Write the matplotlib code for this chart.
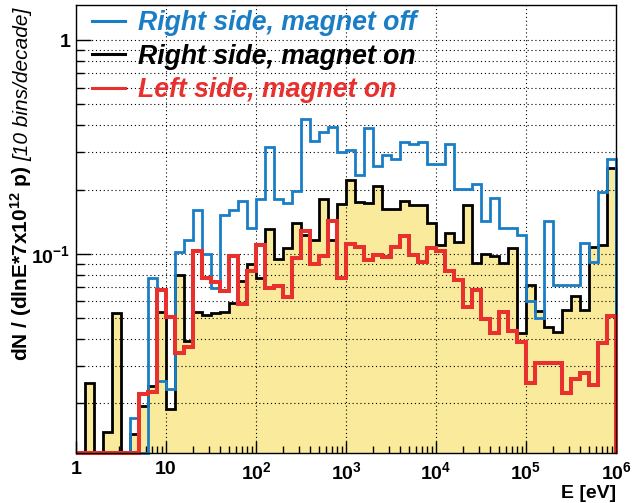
import numpy as np
import matplotlib
matplotlib.use("Agg")
import matplotlib.pyplot as plt
from matplotlib.ticker import FixedLocator, FixedFormatter, NullFormatter
from matplotlib.lines import Line2D

plt.rcParams['font.family'] = ['Liberation Sans', 'DejaVu Sans']
plt.rcParams['mathtext.fontset'] = 'custom'
plt.rcParams['mathtext.rm'] = 'Liberation Sans:bold'
plt.rcParams['mathtext.bf'] = 'Liberation Sans:bold'
plt.rcParams['mathtext.it'] = 'Liberation Sans:italic:bold'

# 10 bins per decade, 1 eV .. 1 MeV
log_edges = np.arange(61) / 10.0

right_on = [0, 0.0249, 0, 0.0146, 0.0528, 0, 0.0144, 0.0195, 0.024, 0.0536,
            0.0187, 0.0795, 0.0392, 0.0536, 0.0517, 0.0530, 0.0533, 0.0586, 0.0745, 0.0901,
            0.0767, 0.130, 0.0944, 0.107, 0.140, 0.122, 0.116, 0.181, 0.116, 0.172,
            0.221, 0.175, 0.173, 0.207, 0.163, 0.162, 0.176, 0.170, 0.170, 0.139,
            0.110, 0.125, 0.114, 0.169, 0.0908, 0.0996, 0.0975, 0.091, 0.107, 0.0428,
            0.0718, 0.0541, 0.0455, 0.0431, 0.0544, 0.0634, 0.0549, 0.108, 0.110, 0.251]

right_off = [0, 0, 0, 0, 0, 0, 0.0171, 0, 0.0767, 0.0253,
             0.0234, 0.102, 0.116, 0.161, 0.100, 0.0693, 0.152, 0.160, 0.177, 0.132,
             0.180, 0.317, 0.180, 0.173, 0.197, 0.428, 0.338, 0.371, 0.392, 0.301,
             0.305, 0.234, 0.390, 0.257, 0.289, 0.279, 0.332, 0.325, 0.334, 0.264,
             0.264, 0.326, 0.202, 0.202, 0.213, 0.142, 0.183, 0.132, 0.132, 0.122,
             0.060, 0.0501, 0.142, 0.0713, 0.0713, 0.0713, 0.112, 0.0918, 0.195, 0.277]

left_on = [0, 0, 0, 0, 0, 0, 0, 0.0220, 0.0226, 0.0676,
           0.0507, 0.0342, 0.0367, 0.103, 0.0767, 0.074, 0.0671, 0.0975, 0.0581, 0.083,
           0.110, 0.0693, 0.0708, 0.063, 0.0958, 0.128, 0.090, 0.0975, 0.143, 0.0767,
           0.111, 0.108, 0.094, 0.0986, 0.097, 0.108, 0.121, 0.0986, 0.0917, 0.107,
           0.103, 0.0832, 0.0753, 0.0565, 0.0676, 0.0493, 0.0428, 0.0536, 0.0437, 0.0385,
           0.025, 0.0307, 0.0309, 0.031, 0.0224, 0.0261, 0.0278, 0.0244, 0.0383, 0.0512]

labels = ["Right side, magnet off", "Right side, magnet on", "Left side, magnet on"]
x_ticks = [1, 10, 100, 1e3, 1e4, 1e5, 1e6]
x_ticklabels = ["1", "10", r"$\mathbf{10^{2}}$", r"$\mathbf{10^{3}}$", r"$\mathbf{10^{4}}$",
                r"$\mathbf{10^{5}}$", r"$\mathbf{10^{6}}$"]
y_ticks = [0.1, 1]
y_ticklabels = [r"$\mathbf{10^{-1}}$", "1"]

YMIN, YMAX = 0.0117, 1.46
edges = 10 ** log_edges

def clamp(v):
    return np.maximum(np.asarray(v, float), YMIN)

fill_col = '#f9eb9b'
blue = '#1a7ec6'
red = '#e8302e'

fig = plt.figure(figsize=(6.33, 5.03), dpi=100)
ax = fig.add_axes([76/633, 1-453/503, (616-76)/633, (453-5)/503])
ax.set_xscale('log')
ax.set_yscale('log')
ax.set_xlim(1, 1e6)
ax.set_ylim(YMIN, YMAX)

ax.stairs(clamp(right_on), edges, baseline=YMIN, fill=True, color=fill_col, lw=0, zorder=2)
ax.stairs(clamp(right_on), edges, baseline=YMIN, color='black', lw=2.0, zorder=3, clip_on=False)
ax.stairs(clamp(right_off), edges, baseline=YMIN, color=blue, lw=2.0, zorder=4, clip_on=False)
ax.stairs(clamp(left_on), edges, baseline=YMIN, color=red, lw=2.9, zorder=5, clip_on=False)

# ticks
ax.xaxis.set_major_locator(FixedLocator(x_ticks))
ax.xaxis.set_major_formatter(FixedFormatter(x_ticklabels))
xminor = [m * 10**d for d in range(6) for m in range(2, 10)]
ax.xaxis.set_minor_locator(FixedLocator(xminor))
ax.xaxis.set_minor_formatter(NullFormatter())
ax.yaxis.set_major_locator(FixedLocator(y_ticks))
ax.yaxis.set_major_formatter(FixedFormatter(y_ticklabels))
yminor = [m * 10**d for d in (-2, -1, 0) for m in range(2, 10)]
yminor = [v for v in yminor if YMIN < v < YMAX]
ax.yaxis.set_minor_locator(FixedLocator(yminor))
ax.yaxis.set_minor_formatter(NullFormatter())

ax.tick_params(axis='both', which='both', direction='in', top=False, right=False,
               width=1.0, colors='black')
ax.tick_params(axis='x', which='major', length=9, pad=6, labelsize=14)
ax.tick_params(axis='x', which='minor', length=5)
ax.tick_params(axis='y', which='major', length=11, pad=4, labelsize=14)
ax.tick_params(axis='y', which='minor', length=6)
for lab in ax.get_xticklabels() + ax.get_yticklabels():
    lab.set_fontweight('bold')

ax.grid(True, axis='x', which='major', color='black', linestyle=(0, (1, 2.5)), lw=0.8, zorder=1)
ax.grid(True, axis='y', which='both', color='black', linestyle=(0, (1, 2.5)), lw=0.8, zorder=1)
ax.set_axisbelow(False)
for s in ax.spines.values():
    s.set_linewidth(1.0)
    s.set_zorder(6)

# legend
handles = [Line2D([], [], color=blue, lw=2.2),
           Line2D([], [], color='black', lw=2.2),
           Line2D([], [], color=red, lw=2.2)]
leg = ax.legend(handles, labels, loc='upper left', bbox_to_anchor=(92/633, 1-10/503),
                bbox_transform=fig.transFigure, frameon=False,
                prop={'family': 'Liberation Sans', 'weight': 'bold', 'style': 'italic', 'size': 19.2},
                handlelength=1.24, handletextpad=0.49, labelspacing=0.29, borderpad=0,
                borderaxespad=0)
for t, c in zip(leg.get_texts(), [blue, 'black', red]):
    t.set_color(c)

# axis titles
fig.text(616/633, 1-502/503, "E [eV]", ha='right', va='bottom', fontsize=14, fontweight='bold')
fig.canvas.draw()
r = fig.canvas.get_renderer()
t_it = fig.text(23/633, 1-8/503, "[10 bins/decade]", rotation=90, ha='center', va='top',
                fontsize=15, style='italic')
fig.canvas.draw()
bb = t_it.get_window_extent(r)
t_bold = fig.text(21/633, (bb.y0 - 4) / fig.bbox.height,
                  r"dN / (dlnE*7x$\mathbf{10^{12}}$ p)", rotation=90, ha='center', va='top',
                  fontsize=15, fontweight='bold')

fig.savefig("out.png", dpi=100)
